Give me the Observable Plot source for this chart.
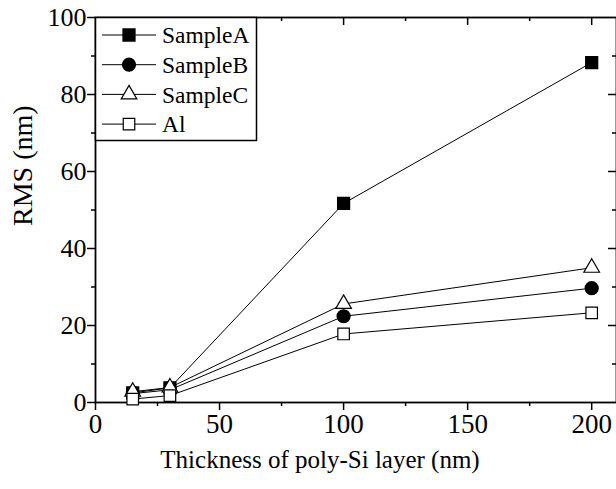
<!DOCTYPE html>
<html>
<head>
<meta charset="utf-8">
<script src="https://cdn.jsdelivr.net/npm/d3@7"></script>
<script src="https://cdn.jsdelivr.net/npm/@observablehq/plot@0.6"></script>
<style>
  body { margin: 0; background: #fff; }
  #wrap { position: relative; width: 616px; height: 489px; }
  #legend { position: absolute; left: 0; top: 0; pointer-events: none; }
  #wrap svg, #wrap svg g, #wrap svg text { font-family: 'Liberation Serif', 'Times New Roman', serif; }
  #wrap g[aria-label="x-axis tick label"] { font-size: 27px; }
  #wrap g[aria-label="y-axis tick label"] { font-size: 26px; }
</style>
</head>
<body>
<div id="wrap"></div>
<script>
const thickness = [15, 30, 100, 200];
const sampleA = [2.5, 3.8, 51.7, 88.3];
const sampleB = [2.3, 3.3, 22.4, 29.7];
const sampleC = [2.8, 3.9, 25.6, 35.0];
const al = [0.9, 1.8, 17.8, 23.3];
const seriesNames = ["SampleA", "SampleB", "SampleC", "Al"];
const xMajor = [0, 50, 100, 150, 200];
const xMinor = [25, 75, 125, 175];
const yMajor = [0, 20, 40, 60, 80, 100];
const yMinor = [10, 30, 50, 70, 90];
const xTitle = "Thickness of poly-Si layer (nm)";
const yTitle = "RMS (nm)";

const seriesValues = [sampleA, sampleB, sampleC, al];
const styles = [
  {symbol: "square", fill: "black", r: 6.8},
  {symbol: "circle", fill: "black", r: 6.5},
  {symbol: "triangle", fill: "white", r: 5.8},
  {symbol: "square", fill: "white", r: 6.5}
];
const rows = [];
seriesNames.forEach((s, i) => thickness.forEach((t, j) => rows.push({series: s, x: t, y: seriesValues[i][j]})));

const W = 616, H = 489, mL = 95, mR = 0, mT = 17, mB = 87;
const plotW = W - mL - mR, plotH = H - mT - mB;
const font = "'Liberation Serif', 'Times New Roman', serif";

const marks = [
  Plot.frame({stroke: "black", strokeWidth: 1.8}),
  // bottom axis
  Plot.axisX(xMajor, {anchor: "bottom", tickSize: 8, tickPadding: 3, label: null, strokeWidth: 1.5}),
  Plot.axisX(xMinor, {anchor: "bottom", tickSize: 4, tickFormat: () => "", label: null, strokeWidth: 1.5}),
  // left axis
  Plot.axisY(yMajor, {anchor: "left", tickSize: 8, tickPadding: 1, label: null, strokeWidth: 1.5}),
  Plot.axisY(yMinor, {anchor: "left", tickSize: 4, tickFormat: () => "", label: null, strokeWidth: 1.5}),
  // axis titles
  Plot.text([xTitle], {text: d => d, frameAnchor: "bottom", dx: -36, dy: 65, fontSize: 25}),
  Plot.text([yTitle], {text: d => d, frameAnchor: "left", rotate: -90, dx: -72, dy: 16, fontSize: 28}),
  // mirrored inward ticks on top and right
  Plot.ruleX(xMajor.filter(d => d > 0), {insetBottom: plotH - 8, stroke: "black", strokeWidth: 1.5}),
  Plot.ruleX(xMinor, {insetBottom: plotH - 4, stroke: "black", strokeWidth: 1.5}),
  Plot.ruleY(yMajor.filter(d => d > 0 && d < 100), {insetLeft: plotW - 8, stroke: "black", strokeWidth: 1.5}),
  Plot.ruleY(yMinor, {insetLeft: plotW - 4, stroke: "black", strokeWidth: 1.5}),
  Plot.line(rows, {x: "x", y: "y", z: "series", stroke: "black", strokeWidth: 1})
];
seriesNames.forEach((s, i) => {
  marks.push(Plot.dot(rows.filter(d => d.series === s), {
    x: "x", y: "y", symbol: styles[i].symbol, r: styles[i].r,
    fill: styles[i].fill, stroke: "black", strokeWidth: 1.2
  }));
});

const chart = Plot.plot({
  width: W, height: H,
  marginLeft: mL, marginRight: mR, marginTop: mT, marginBottom: mB,
  style: {fontFamily: font, fontSize: "26px", color: "black", background: "white"},
  x: {domain: [0, 210]},
  y: {domain: [0, 100]},
  marks
});
document.getElementById("wrap").appendChild(chart);

// Legend inside the plot area (top-left corner)
const leg = d3.select("#wrap").append("svg").attr("id", "legend").attr("width", W).attr("height", H);
leg.append("rect").attr("x", mL + 0.5).attr("y", mT + 0.5).attr("width", 161).attr("height", 123)
  .attr("fill", "white").attr("stroke", "black").attr("stroke-width", 1.5);
const symMap = {square: d3.symbolSquare, circle: d3.symbolCircle, triangle: d3.symbolTriangle};
seriesNames.forEach((s, i) => {
  const cy = mT + 18 + i * 29.7;
  const g = leg.append("g");
  g.append("line").attr("x1", 102).attr("x2", 156).attr("y1", cy).attr("y2", cy).attr("stroke", "black").attr("stroke-width", 1);
  g.append("path").attr("transform", `translate(129,${cy})`)
    .attr("d", d3.symbol(symMap[styles[i].symbol], Math.PI * styles[i].r * styles[i].r)())
    .attr("fill", styles[i].fill).attr("stroke", "black").attr("stroke-width", 1.2);
  g.append("text").attr("x", 162).attr("y", cy).attr("dy", "0.35em")
    .attr("font-size", 23.5).text(s);
});
</script>
</body>
</html>
